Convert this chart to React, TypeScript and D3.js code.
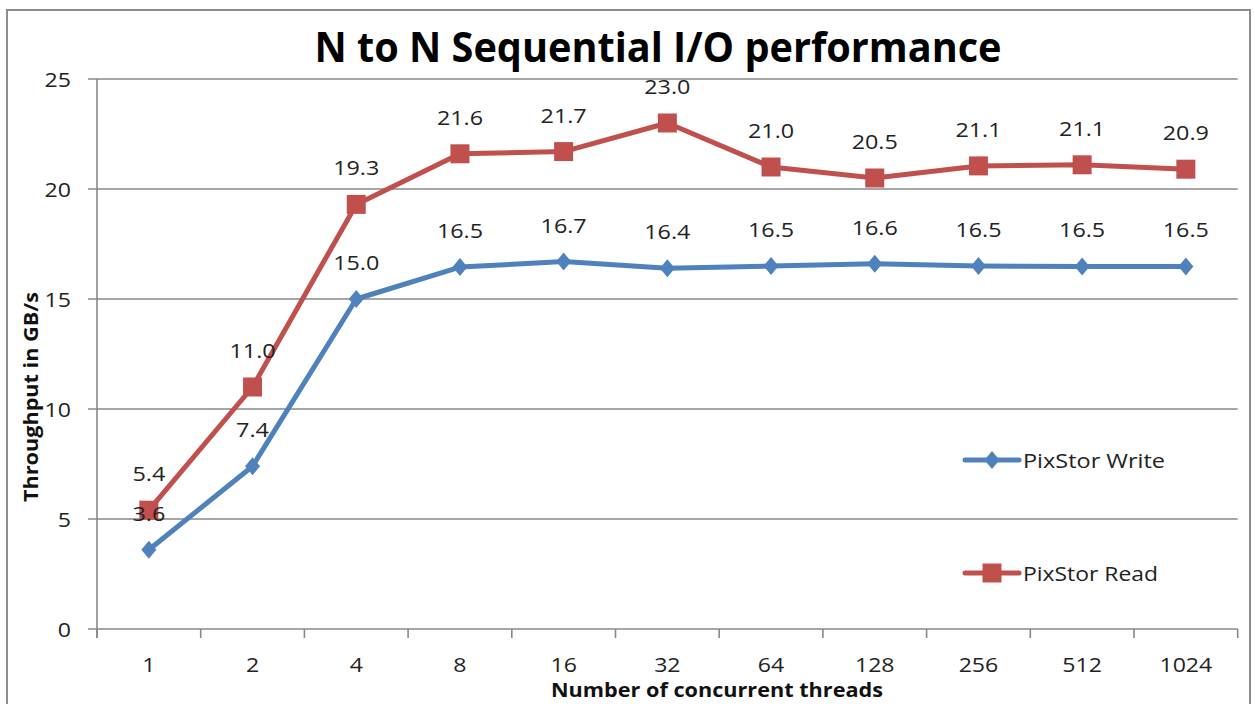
import React from "react";
import * as d3 from "d3";

const categories = ["1", "2", "4", "8", "16", "32", "64", "128", "256", "512", "1024"];
const writeValues = [3.6, 7.4, 15.0, 16.45, 16.7, 16.4, 16.5, 16.6, 16.5, 16.48, 16.48];
const writeLabels = ["3.6", "7.4", "15.0", "16.5", "16.7", "16.4", "16.5", "16.6", "16.5", "16.5", "16.5"];
const readValues = [5.4, 11.0, 19.3, 21.6, 21.7, 23.0, 21.0, 20.5, 21.05, 21.1, 20.9];
const readLabels = ["5.4", "11.0", "19.3", "21.6", "21.7", "23.0", "21.0", "20.5", "21.1", "21.1", "20.9"];
const yTicks = [0, 5, 10, 15, 20, 25];
const seriesNames = ["PixStor Write", "PixStor Read"];

const BLUE = "#4F81BD";
const RED = "#C0504D";
const GRID = "#888888";
const FONT = "'Open Sans', 'Liberation Sans', sans-serif";

const charW = (s: string) =>
  s.split("").reduce((a, c) => a + (c === "." ? 6.5 : 13.2), 0);

export default function App() {
  const W = 1255, H = 704;
  const left = 97, right = 1237.7, top = 79, bottom = 629;
  const x = d3.scaleBand<string>().domain(categories).range([left, right]);
  const y = d3.scaleLinear().domain([0, 25]).range([bottom, top]);
  const cx = (c: string) => (x(c) as number) + x.bandwidth() / 2;
  const line = d3.line<number>().x((_, i) => cx(categories[i])).y((v) => y(v));

  const diamond = (px: number, py: number) =>
    `M${px},${py - 9}L${px + 7.5},${py}L${px},${py + 9}L${px - 7.5},${py}Z`;

  const label = (s: string, px: number, py: number, anchor: string, key: string) => (
    <text key={key} x={px} y={py} textAnchor={anchor as any} fontFamily={FONT} fontSize={20} fill="#222"
      textLength={charW(s)} lengthAdjust="spacingAndGlyphs">{s}</text>
  );

  const bounds = [...categories.map((c) => x(c) as number), right];

  return (
    <svg width={W} height={H} style={{ position: "absolute", left: 0, top: 0, background: "#fff" }}>
      <rect x={0} y={0} width={W} height={H} fill="#fff" />
      <rect x={7} y={10} width={1243} height={720} fill="none" stroke="#8c8c8c" strokeWidth={2} />
      <text x={658} y={62} textAnchor="middle" fontFamily={FONT} fontWeight={700} fontSize={41}
        textLength={687} lengthAdjust="spacingAndGlyphs" fill="#000">N to N Sequential I/O performance</text>

      {yTicks.map((t) => (
        <g key={"g" + t}>
          <line x1={88} x2={right} y1={y(t)} y2={y(t)} stroke={GRID} strokeWidth={1.6} />
          {label(String(t), 71, y(t) + 7.5, "end", "yt" + t)}
        </g>
      ))}
      <line x1={left} x2={left} y1={top} y2={bottom + 9} stroke={GRID} strokeWidth={1.6} />
      {bounds.map((b, i) => (
        <line key={"xt" + i} x1={b} x2={b} y1={bottom} y2={bottom + 9} stroke={GRID} strokeWidth={1.6} />
      ))}
      {categories.map((c) => label(c, cx(c), 672, "middle", "xl" + c))}

      <text x={717} y={697} textAnchor="middle" fontFamily={FONT} fontWeight={700} fontSize={19}
        textLength={332} lengthAdjust="spacingAndGlyphs" fill="#111">Number of concurrent threads</text>
      <text transform="translate(38,397) rotate(-90)" textAnchor="middle" fontFamily={FONT} fontWeight={700}
        fontSize={19} textLength={210} lengthAdjust="spacingAndGlyphs" fill="#111">Throughput  in GB/s</text>

      <path d={line(writeValues) || ""} fill="none" stroke={BLUE} strokeWidth={5} strokeLinejoin="round" />
      {writeValues.map((v, i) => (
        <path key={"wd" + i} d={diamond(cx(categories[i]), y(v))} fill={BLUE} />
      ))}
      <path d={line(readValues) || ""} fill="none" stroke={RED} strokeWidth={5} strokeLinejoin="round" />
      {readValues.map((v, i) => (
        <rect key={"rs" + i} x={cx(categories[i]) - 9.5} y={y(v) - 9.5} width={19} height={19} fill={RED} />
      ))}

      {readValues.map((v, i) => label(readLabels[i], cx(categories[i]), y(v) - 29, "middle", "rl" + i))}
      {writeValues.map((v, i) => label(writeLabels[i], cx(categories[i]), y(v) - 29, "middle", "wl" + i))}

      <line x1={965} x2={1019} y1={460} y2={460} stroke={BLUE} strokeWidth={5} strokeLinecap="round" />
      <path d={diamond(992, 460)} fill={BLUE} />
      <text x={1023} y={468} fontFamily={FONT} fontSize={20} fill="#222" textLength={142}
        lengthAdjust="spacingAndGlyphs">{seriesNames[0]}</text>
      <line x1={965} x2={1019} y1={573} y2={573} stroke={RED} strokeWidth={5} strokeLinecap="round" />
      <rect x={982.5} y={563.5} width={19} height={19} fill={RED} />
      <text x={1023} y={581} fontFamily={FONT} fontSize={20} fill="#222" textLength={135}
        lengthAdjust="spacingAndGlyphs">{seriesNames[1]}</text>
    </svg>
  );
}
